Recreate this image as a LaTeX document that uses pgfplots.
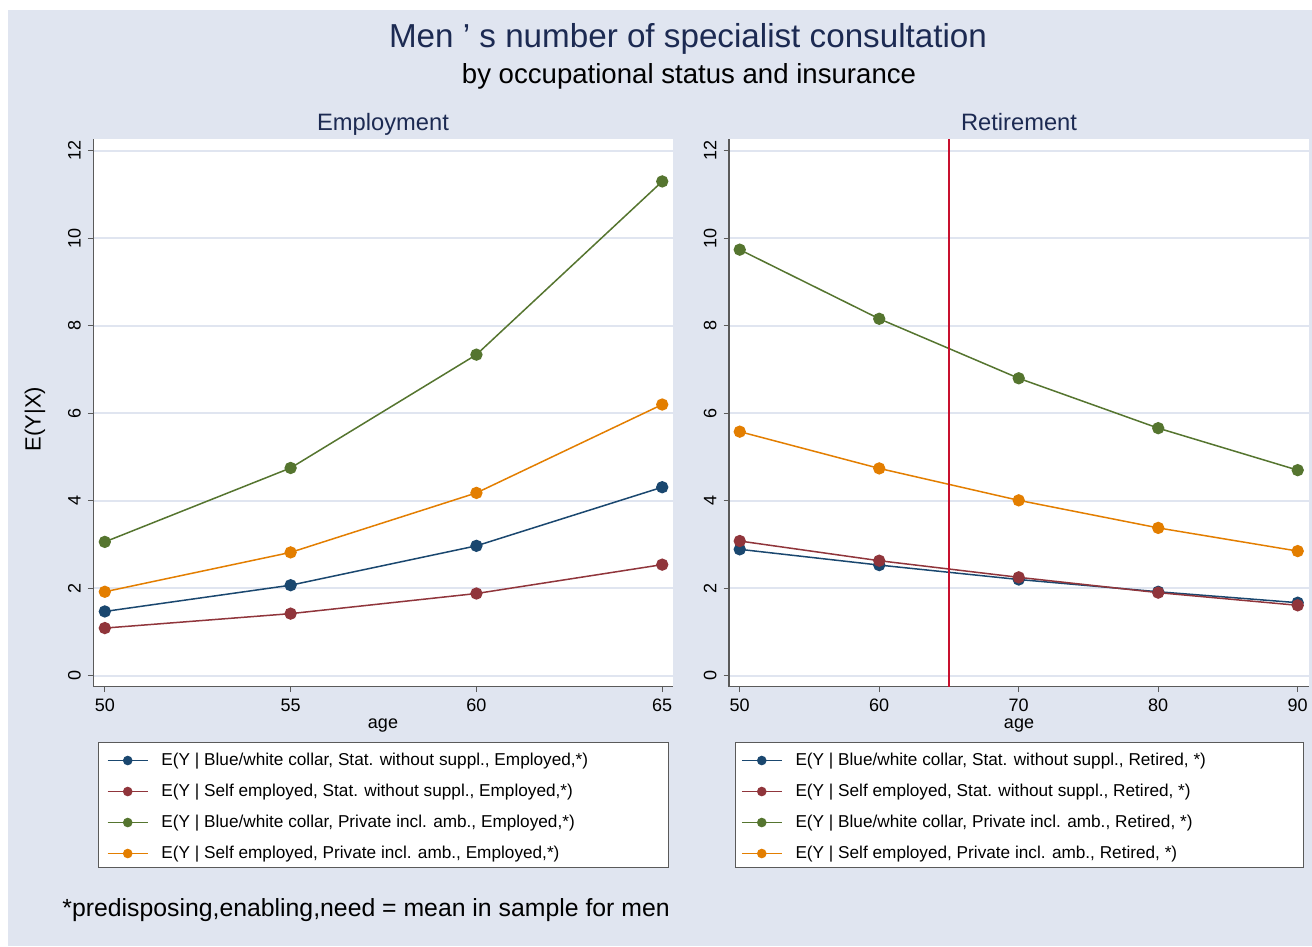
\documentclass[border=0pt]{standalone}
\usepackage{fontspec}
\setmainfont{Liberation Sans}
\usepackage{pgfplots}
\pgfplotsset{compat=1.18}
\definecolor{bg}{RGB}{224,229,240}
\definecolor{gridc}{RGB}{224,229,240}
\definecolor{snavy}{RGB}{26,71,111}
\definecolor{smaroon}{RGB}{144,53,59}
\definecolor{sgreen}{RGB}{85,117,47}
\definecolor{sorange}{RGB}{227,126,0}
\definecolor{tnavy}{RGB}{28,42,82}
\definecolor{axgray}{RGB}{90,90,90}
\definecolor{vline}{RGB}{200,16,46}
\pgfplotsset{
 stata/.style={
  scale only axis, width=289.85pt, height=273.85pt,
  axis x line*=bottom, axis y line*=left,
  axis line style={axgray, line width=0.6pt, -},
  tick style={axgray, line width=0.5pt},
  tick align=outside, major tick length=2.75pt,
  ymin=-0.25, ymax=12.27, ytick={0,2,...,12},
  ymajorgrids, grid style={gridc, line width=0.8pt},
  yticklabel style={rotate=90, anchor=south},
  tick label style={font=\fontsize{9}{10}\selectfont},
  /pgf/number format/assume math mode=true,
  axis background/.style={fill=white},
  every axis plot/.append style={line width=0.75pt, mark=*, mark size=2.7pt},
  legend style={draw=none, fill=none, inner sep=0pt, outer sep=0pt, row sep=0pt, column sep=6.5pt,
    nodes={inner sep=0pt, minimum height=15.5pt, font=\fontsize{8.6}{9.5}\selectfont}, anchor=north west},
  legend cell align=left,
  legend image code/.code={\draw[mark repeat=2,mark phase=2,mark size=2pt,##1] plot coordinates {(0pt,0pt)(10pt,0pt)(20pt,0pt)};},
 }
}
\begin{document}
\begin{tikzpicture}
\useasboundingbox (0,0) rectangle (656pt,473.5pt);
\fill[bg] (4pt,0.5pt) rectangle (656pt,468.5pt);
% legend frames
\draw[axgray, fill=white, line width=0.5pt] (49pt,39.5pt) rectangle (334pt,102pt);
\draw[axgray, fill=white, line width=0.5pt] (367.5pt,39.5pt) rectangle (651.5pt,102pt);
% titles
\node[anchor=base, text=tnavy, font=\fontsize{16.6}{18}\selectfont] at (344pt,449.5pt) {Men ’ s number of specialist consultation};
\node[anchor=base, font=\fontsize{13.8}{15}\selectfont] at (344.5pt,431.5pt) {by occupational status and insurance};
\node[anchor=base, text=tnavy, font=\fontsize{11.85}{13}\selectfont] at (191.5pt,408pt) {Employment};
\node[anchor=base, text=tnavy, font=\fontsize{11.85}{13}\selectfont] at (509.5pt,408pt) {Retirement};
\node[anchor=base, font=\fontsize{9}{10}\selectfont] at (191.5pt,109pt) {age};
\node[anchor=base, font=\fontsize{9}{10}\selectfont] at (509.5pt,109pt) {age};
\node[rotate=90, font=\fontsize{11}{12}\selectfont] at (17.5pt,264pt) {E(Y|X)};
\node[anchor=base west, inner sep=0pt, font=\fontsize{12.4}{14}\selectfont] at (31pt,15pt) {*predisposing,enabling,need = mean in sample for men};

\begin{axis}[stata, at={(46.65pt,130.15pt)}, anchor=south west,
  xmin=49.69, xmax=65.29, xtick={50,55,60,65},
  legend style={at={(axis description cs:0.0236,-0.1065)}}]
\addplot[snavy] coordinates {(50,1.47)(55,2.07)(60,2.97)(65,4.31)};
\addlegendentry{E(Y | Blue/white collar, Stat. without suppl., Employed,*)}
\addplot[smaroon] coordinates {(50,1.09)(55,1.42)(60,1.88)(65,2.54)};
\addlegendentry{E(Y | Self employed, Stat. without suppl., Employed,*)}
\addplot[sgreen] coordinates {(50,3.06)(55,4.75)(60,7.34)(65,11.30)};
\addlegendentry{E(Y | Blue/white collar, Private incl. amb., Employed,*)}
\addplot[sorange] coordinates {(50,1.92)(55,2.82)(60,4.18)(65,6.20)};
\addlegendentry{E(Y | Self employed, Private incl. amb., Employed,*)}
\end{axis}

\begin{axis}[stata, at={(364.5pt,130.15pt)}, anchor=south west, width=290pt,
  xmin=49.23, xmax=90.81, xtick={50,60,70,80,90},
  legend style={at={(axis description cs:0.0207,-0.1065)}}]
\addplot[snavy] coordinates {(50,2.89)(60,2.53)(70,2.20)(80,1.92)(90,1.67)};
\addlegendentry{E(Y | Blue/white collar, Stat. without suppl., Retired, *)}
\addplot[smaroon] coordinates {(50,3.08)(60,2.63)(70,2.25)(80,1.90)(90,1.61)};
\addlegendentry{E(Y | Self employed, Stat. without suppl., Retired, *)}
\addplot[sgreen] coordinates {(50,9.74)(60,8.16)(70,6.80)(80,5.66)(90,4.70)};
\addlegendentry{E(Y | Blue/white collar, Private incl. amb., Retired, *)}
\addplot[sorange] coordinates {(50,5.58)(60,4.74)(70,4.01)(80,3.38)(90,2.85)};
\addlegendentry{E(Y | Self employed, Private incl. amb., Retired, *)}
\addplot[vline, mark=none, line width=0.7pt, forget plot] coordinates {(65,-0.25)(65,12.27)};
\end{axis}
\end{tikzpicture}
\end{document}
